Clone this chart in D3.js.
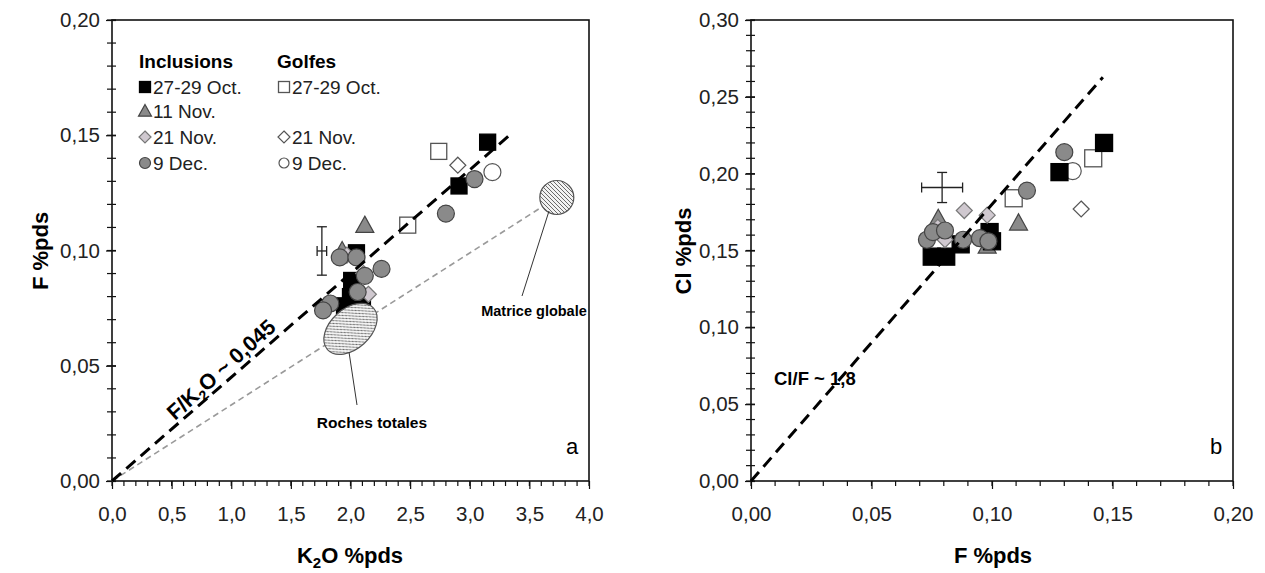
<!DOCTYPE html>
<html><head><meta charset="utf-8">
<script src="https://cdn.jsdelivr.net/npm/d3@7"></script>
<style>body{margin:0;background:#fff}svg{font-family:"Liberation Sans",Arial,sans-serif}</style>
</head><body><svg id="c" width="1265" height="573"></svg>
<script>
// ---------- DATA ----------
// Panel a : K2O (x) vs F (y)
const a_incl_oct = [[3.15,0.147],[2.91,0.128],[2.05,0.099],[2.01,0.087],[2.00,0.080],[1.95,0.076],[2.10,0.080]];
const a_incl_nov11 = [[2.12,0.111],[1.93,0.100]];
const a_incl_nov21 = [[2.15,0.081],[2.11,0.090],[1.97,0.098]];
const a_incl_dec = [[3.04,0.131],[2.80,0.116],[1.91,0.097],[2.05,0.097],[2.26,0.092],[2.12,0.089],[2.06,0.082],[1.83,0.077],[1.77,0.074]];
const a_golf_oct = [[2.74,0.143],[2.48,0.111]];
const a_golf_nov21 = [[2.90,0.137]];
const a_golf_dec = [[3.19,0.134]];
const a_err = {x:1.76, y:0.0998, dx:0.04, dy:0.0105};
const a_ratio = 0.045, a_lineEnd = 3.35;
const a_matrice = [3.73,0.123];
const a_roches = [2.0,0.066];
// Panel b : F (x) vs Cl (y)
const b_incl_oct = [[0.1465,0.220],[0.128,0.201],[0.075,0.146],[0.081,0.146],[0.099,0.162],[0.100,0.156],[0.087,0.154]];
const b_incl_nov11 = [[0.111,0.168],[0.0777,0.171],[0.098,0.153]];
const b_incl_nov21 = [[0.0885,0.176],[0.098,0.173],[0.0805,0.157],[0.0775,0.165]];
const b_incl_dec = [[0.130,0.214],[0.1145,0.189],[0.073,0.157],[0.0755,0.162],[0.0805,0.163],[0.088,0.157],[0.095,0.158],[0.0985,0.156]];
const b_golf_oct = [[0.142,0.210],[0.109,0.184]];
const b_golf_nov21 = [[0.137,0.177]];
const b_golf_dec = [[0.1335,0.2017]];
const b_err = {x:0.0793, y:0.191, dx:0.0085, dy:0.0098};
const b_ratio = 1.8, b_lineEnd = 0.146;
// ticks
const a_xTicks = [0,0.5,1,1.5,2,2.5,3,3.5,4];
const a_yTicks = [0,0.05,0.10,0.15,0.20];
const b_xTicks = [0,0.05,0.10,0.15,0.20];
const b_yTicks = [0,0.05,0.10,0.15,0.20,0.25,0.30];
const legendRows = ["27-29 Oct.","11 Nov.","21 Nov.","9 Dec."];

// ---------- DRAW ----------
const svg = d3.select("#c");
const defs = svg.append("defs");
const pat = defs.append("pattern").attr("id","hatch").attr("patternUnits","userSpaceOnUse")
  .attr("width",4).attr("height",4);
pat.append("rect").attr("width",4).attr("height",4).attr("fill","#f2f2f2");
pat.append("path").attr("d","M-1,-1L5,5M-1,3L1,5M3,-1L5,1").attr("stroke","#6a6a6a").attr("stroke-width",1);

const comma = f => v => d3.format(f)(v).replace(".",",");

function panel(x0,x1,y0,y1,xd,yd,xT,yT,xMinor,yMinor,xf,yf){
  const x = d3.scaleLinear().domain(xd).range([x0,x1]);
  const y = d3.scaleLinear().domain(yd).range([y1,y0]);
  const g = svg.append("g");
  g.append("rect").attr("x",x0).attr("y",y0).attr("width",x1-x0).attr("height",y1-y0)
    .attr("fill","none").attr("stroke","#111").attr("stroke-width",1.6);
  const xm = d3.range(xd[0], xd[1]+1e-9, xMinor);
  const ym = d3.range(yd[0], yd[1]+1e-9, yMinor);
  g.selectAll(".xm").data(xm).join("line").attr("x1",d=>x(d)).attr("x2",d=>x(d))
    .attr("y1",y1).attr("y2",y1+5).attr("stroke","#111").attr("stroke-width",1.2);
  g.selectAll(".ym").data(ym).join("line").attr("y1",d=>y(d)).attr("y2",d=>y(d))
    .attr("x1",x0-5).attr("x2",x0+4).attr("stroke","#111").attr("stroke-width",1.2);
  const ax = g.append("g").attr("transform",`translate(0,${y1})`)
    .call(d3.axisBottom(x).tickValues(xT).tickFormat(comma(xf)).tickSize(8).tickPadding(17));
  const ay = g.append("g").attr("transform",`translate(${x0},0)`)
    .call(d3.axisLeft(y).tickValues(yT).tickFormat(comma(yf)).tickSize(6).tickPadding(6));
  [ax,ay].forEach(a=>{a.select(".domain").remove();
    a.selectAll("line").attr("stroke","#111").attr("stroke-width",1.2);
    a.selectAll("text").attr("font-size",20.5).attr("fill","#222").attr("font-family","Liberation Sans, Arial, sans-serif");});
  ay.selectAll("line").attr("x2",-6).attr("x1",4);
  return {x,y,g};
}

const shapes = {
  square: (g,pts,P,fill,stroke,s=16)=>g.selectAll(null).data(pts).join("rect")
    .attr("x",d=>P.x(d[0])-s/2).attr("y",d=>P.y(d[1])-s/2).attr("width",s).attr("height",s)
    .attr("fill",fill).attr("stroke",stroke).attr("stroke-width",1.3),
  circle: (g,pts,P,fill,stroke,r=8.5)=>g.selectAll(null).data(pts).join("circle")
    .attr("cx",d=>P.x(d[0])).attr("cy",d=>P.y(d[1])).attr("r",r)
    .attr("fill",fill).attr("stroke",stroke).attr("stroke-width",1.2),
  diamond: (g,pts,P,fill,stroke,r=8)=>g.selectAll(null).data(pts).join("path")
    .attr("d",d=>{const cx=P.x(d[0]),cy=P.y(d[1]);return `M${cx},${cy-r}L${cx+r},${cy}L${cx},${cy+r}L${cx-r},${cy}Z`;})
    .attr("fill",fill).attr("stroke",stroke).attr("stroke-width",1.2),
  triangle: (g,pts,P,fill,stroke,r=9)=>g.selectAll(null).data(pts).join("path")
    .attr("d",d=>{const cx=P.x(d[0]),cy=P.y(d[1]);return `M${cx},${cy-r}L${cx+r},${cy+r*0.8}L${cx-r},${cy+r*0.8}Z`;})
    .attr("fill",fill).attr("stroke",stroke).attr("stroke-width",1.2)
};
const BLK="#000", GRAY="#8a8a8a", LIGHT="#cfc8cf", EDGE="#444", WEDGE="#555";

function errbar(g,P,e){
  const cx=P.x(e.x), cy=P.y(e.y), xl=P.x(e.x-e.dx), xr=P.x(e.x+e.dx), yt=P.y(e.y+e.dy), yb=P.y(e.y-e.dy);
  const L=(a,b,c,d)=>g.append("line").attr("x1",a).attr("y1",b).attr("x2",c).attr("y2",d).attr("stroke","#222").attr("stroke-width",1.3);
  L(xl,cy,xr,cy); L(cx,yt,cx,yb);
  L(cx-5,yt,cx+5,yt); L(cx-5,yb,cx+5,yb); L(xl,cy-5,xl,cy+5); L(xr,cy-5,xr,cy+5);
}

// ----- Panel a -----
const A = panel(112,589,20,481,[0,4],[0,0.20],a_xTicks,a_yTicks,0.1,0.01,".1f",".2f");
const ga = A.g.append("g");
ga.append("line").attr("x1",A.x(0)).attr("y1",A.y(0)).attr("x2",A.x(a_matrice[0])).attr("y2",A.y(a_matrice[1]))
  .attr("stroke","#9a9a9a").attr("stroke-width",1.6).attr("stroke-dasharray","6,4");
shapes.square(ga,a_golf_oct,A,"#fff",WEDGE);
shapes.diamond(ga,a_golf_nov21,A,"#fff",WEDGE);
shapes.circle(ga,a_golf_dec,A,"#fff",WEDGE);
shapes.square(ga,a_incl_oct,A,BLK,BLK);
shapes.triangle(ga,a_incl_nov11,A,GRAY,EDGE);
shapes.diamond(ga,a_incl_nov21,A,LIGHT,"#777");
shapes.circle(ga,a_incl_dec,A,GRAY,EDGE);
ga.append("ellipse").attr("cx",A.x(a_roches[0])).attr("cy",A.y(a_roches[1])).attr("rx",31).attr("ry",20)
  .attr("transform",`rotate(-42,${A.x(a_roches[0])},${A.y(a_roches[1])})`)
  .attr("fill","url(#hatch)").attr("stroke","#555").attr("stroke-width",1.2);
ga.append("circle").attr("cx",A.x(a_matrice[0])).attr("cy",A.y(a_matrice[1])).attr("r",17)
  .attr("fill","url(#hatch)").attr("stroke","#555").attr("stroke-width",1.2);
ga.append("line").attr("x1",A.x(0)).attr("y1",A.y(0)).attr("x2",A.x(a_lineEnd)).attr("y2",A.y(a_ratio*a_lineEnd))
  .attr("stroke","#000").attr("stroke-width",3).attr("stroke-dasharray","12,7");
errbar(ga,A,a_err);
ga.append("line").attr("x1",349).attr("y1",352).attr("x2",357).attr("y2",405).attr("stroke","#333").attr("stroke-width",1);
ga.append("text").attr("x",372).attr("y",428).attr("text-anchor","middle").attr("font-size",15.5).attr("font-weight","bold").text("Roches totales");
ga.append("line").attr("x1",549).attr("y1",211).attr("x2",522).attr("y2",296).attr("stroke","#333").attr("stroke-width",1);
ga.append("text").attr("x",534).attr("y",316).attr("text-anchor","middle").attr("font-size",14.5).attr("font-weight","bold").text("Matrice globale");
const rl = ga.append("text").attr("transform","translate(226,375) rotate(-42)").attr("text-anchor","middle")
  .attr("font-size",21.5).attr("font-weight","bold");
rl.append("tspan").text("F/K");
rl.append("tspan").attr("font-size",14).attr("dy",5).text("2");
rl.append("tspan").attr("dy",-5).text("O ~ 0,045");
ga.append("text").attr("x",572).attr("y",454).attr("text-anchor","middle").attr("font-size",22).text("a");
// legend
const leg = ga.append("g").attr("font-size",19);
leg.append("text").attr("x",139).attr("y",68).attr("font-weight","bold").text("Inclusions");
leg.append("text").attr("x",277).attr("y",68).attr("font-weight","bold").text("Golfes");
const ly = [87,111,137,163];
legendRows.forEach((t,i)=>{
  leg.append("text").attr("x",153).attr("y",ly[i]+7).attr("fill","#222").text(t);
});
const LP = {x:v=>v, y:v=>v};
shapes.square(leg,[[145,ly[0]]],LP,BLK,BLK,11);
shapes.triangle(leg,[[145,ly[1]]],LP,GRAY,EDGE,6.5);
shapes.diamond(leg,[[145,ly[2]]],LP,LIGHT,"#777",6);
shapes.circle(leg,[[145,ly[3]]],LP,GRAY,EDGE,5.5);
[0,2,3].forEach(i=>leg.append("text").attr("x",292).attr("y",ly[i]+7).attr("fill","#222").text(legendRows[i]));
shapes.square(leg,[[284,ly[0]]],LP,"#fff",WEDGE,11);
shapes.diamond(leg,[[284,ly[2]]],LP,"#fff",WEDGE,6);
shapes.circle(leg,[[284,ly[3]]],LP,"#fff",WEDGE,5);
// axis titles
svg.append("text").attr("transform","translate(48,251) rotate(-90)").attr("text-anchor","middle")
  .attr("font-size",22).attr("font-weight","bold").text("F %pds");
const xt = svg.append("text").attr("x",350).attr("y",563).attr("text-anchor","middle").attr("font-size",22).attr("font-weight","bold");
xt.append("tspan").text("K");
xt.append("tspan").attr("font-size",15).attr("dy",5).text("2");
xt.append("tspan").attr("dy",-5).text("O %pds");

// ----- Panel b -----
const B = panel(751,1233,20,481,[0,0.20],[0,0.30],b_xTicks,b_yTicks,0.01,0.01,".2f",".2f");
const gb = B.g.append("g");
shapes.square(gb,b_golf_oct,B,"#fff",WEDGE,17);
shapes.diamond(gb,b_golf_nov21,B,"#fff",WEDGE);
shapes.circle(gb,b_golf_dec,B,"#fff",WEDGE);
shapes.triangle(gb,b_incl_nov11,B,GRAY,EDGE);
shapes.square(gb,b_incl_oct,B,BLK,BLK,17);
shapes.diamond(gb,b_incl_nov21,B,LIGHT,"#777");
shapes.circle(gb,b_incl_dec,B,GRAY,EDGE);
gb.append("line").attr("x1",B.x(0)).attr("y1",B.y(0)).attr("x2",B.x(b_lineEnd)).attr("y2",B.y(b_ratio*b_lineEnd))
  .attr("stroke","#000").attr("stroke-width",3).attr("stroke-dasharray","12,7");
errbar(gb,B,b_err);
gb.append("text").attr("x",774).attr("y",385).attr("font-size",18.5).attr("font-weight","bold").text("Cl/F ~ 1,8");
gb.append("text").attr("x",1216).attr("y",454).attr("text-anchor","middle").attr("font-size",22).text("b");
svg.append("text").attr("transform","translate(691,251) rotate(-90)").attr("text-anchor","middle")
  .attr("font-size",22).attr("font-weight","bold").text("Cl %pds");
svg.append("text").attr("x",993).attr("y",563).attr("text-anchor","middle").attr("font-size",22).attr("font-weight","bold").text("F %pds");
</script></body></html>
